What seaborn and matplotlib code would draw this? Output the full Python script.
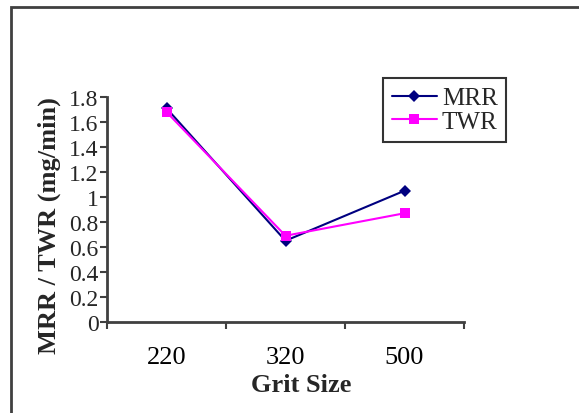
import matplotlib
matplotlib.use("Agg")
import matplotlib.pyplot as plt
from matplotlib.patches import Rectangle
import seaborn as sns
import pandas as pd

grit_sizes = ["220", "320", "500"]
mrr = [1.71, 0.65, 1.05]
twr = [1.68, 0.69, 0.87]
series_names = ["MRR", "TWR"]
y_ticks = [0, 0.2, 0.4, 0.6, 0.8, 1, 1.2, 1.4, 1.6, 1.8]
y_tick_labels = ["0", "0.2", "0.4", "0.6", "0.8", "1", "1.2", "1.4", "1.6", "1.8"]

df = pd.DataFrame({
    "Grit Size": grit_sizes * 2,
    "value": mrr + twr,
    "series": [series_names[0]] * 3 + [series_names[1]] * 3,
})

sns.set_style("white")
plt.rcParams["font.family"] = ["Liberation Serif", "DejaVu Serif"]

fig = plt.figure(figsize=(5.79, 4.14), dpi=100)
ax = fig.add_axes([107 / 579, 1 - 323 / 414, (464 - 107) / 579, (323 - 98) / 414])

sns.lineplot(
    data=df, x="Grit Size", y="value", hue="series", style="series",
    markers={"MRR": "D", "TWR": "s"}, dashes=False,
    palette={"MRR": "#000080", "TWR": "#FF00FF"},
    markersize=6.5, linewidth=1.5, markeredgewidth=0, ax=ax,
)

ax.set_xlim(-0.5, 2.5)
ax.set_ylim(0, 1.8)
ax.set_yticks(y_ticks)
ax.set_yticklabels(y_tick_labels)
ax.set_xticks(range(len(grit_sizes)))
ax.set_xticklabels(grit_sizes)
ax.set_xticks([-0.5, 0.5, 1.5, 2.5], minor=True)

ax.tick_params(axis="x", which="major", length=0, labelsize=19, pad=17, colors="black")
ax.tick_params(axis="x", which="minor", length=5, width=1.5, direction="out", color="#404040", bottom=True)
ax.tick_params(axis="y", length=5, width=1.5, direction="out", color="#404040", labelsize=17, pad=1, left=True)

for side in ("top", "right"):
    ax.spines[side].set_visible(False)
for side in ("left", "bottom"):
    ax.spines[side].set_color("#404040")
    ax.spines[side].set_linewidth(2)

ax.set_xlabel("Grit Size", fontsize=19, fontweight="bold")
ax.set_ylabel("MRR / TWR (mg/min)", fontsize=19, fontweight="bold")
ax.xaxis.set_label_coords(0.543, -0.228)
ax.yaxis.set_label_coords(-0.128, 0.435)

handles, labels = ax.get_legend_handles_labels()
leg = ax.legend(
    handles, labels, loc="upper left", bbox_to_anchor=(383 / 579, 1 - 79 / 414),
    bbox_transform=fig.transFigure, frameon=True, fancybox=False,
    fontsize=18, handlelength=1.8, handletextpad=0.2, borderpad=0.35,
    labelspacing=0.05, borderaxespad=0,
)
leg.get_frame().set_edgecolor("black")
leg.get_frame().set_linewidth(1.5)

# outer chart-area border, open at the right and bottom
fig.add_artist(Rectangle(
    (10.5 / 579, -0.1), 1.2, 1.1 - 8 / 414, transform=fig.transFigure,
    fill=False, edgecolor="#404040", linewidth=2, clip_on=False,
))

fig.savefig("out.png", dpi=100)
